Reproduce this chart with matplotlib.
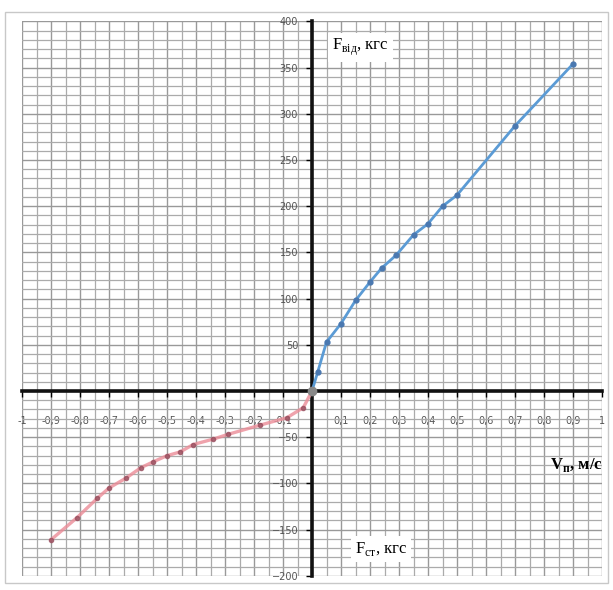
import matplotlib
matplotlib.use("Agg")
import matplotlib.pyplot as plt
from matplotlib.patches import Rectangle
import numpy as np

plt.rcParams["mathtext.fontset"] = "custom"
plt.rcParams["mathtext.rm"] = "Liberation Serif"
plt.rcParams["mathtext.bf"] = "Liberation Serif:bold"

# speed (m/s) vs force (kgf)
v_vid = [0, 0.02, 0.05, 0.1, 0.15, 0.2, 0.24, 0.29, 0.35, 0.4, 0.45, 0.5, 0.7, 0.9]
f_vid = [0, 21, 53, 73, 98, 118, 133, 147, 169, 181, 200, 212, 287, 354]

v_st = [0, -0.03, -0.087, -0.18, -0.29, -0.34, -0.41, -0.455, -0.5, -0.55,
        -0.59, -0.64, -0.70, -0.74, -0.81, -0.9]
f_st = [0, -18, -29, -37, -47, -52, -58, -66, -70, -77,
        -83, -94, -105, -116, -137, -161]

x_ticks = [-1, -0.9, -0.8, -0.7, -0.6, -0.5, -0.4, -0.3, -0.2, -0.1,
           0.1, 0.2, 0.3, 0.4, 0.5, 0.6, 0.7, 0.8, 0.9, 1]
x_labels = ["-1", "-0,9", "-0,8", "-0,7", "-0,6", "-0,5", "-0,4", "-0,3", "-0,2", "-0,1",
            "0,1", "0,2", "0,3", "0,4", "0,5", "0,6", "0,7", "0,8", "0,9", "1"]
y_ticks = [-200, -150, -100, -50, 50, 100, 150, 200, 250, 300, 350, 400]

fig = plt.figure(figsize=(6.13, 5.90), dpi=100)
ax = fig.add_axes([0.0359, 0.0241, 0.9462, 0.9396])

# outer chart frame
fig.patches.append(Rectangle((5 / 613, 1 - 583 / 590), 603 / 613, 571 / 590,
                             transform=fig.transFigure, fill=False,
                             edgecolor="#c8c8c8", linewidth=1))

ax.set_xlim(-1, 1)
ax.set_ylim(-200, 400)

ax.set_xticks(np.arange(-1, 1.001, 0.05), minor=True)
ax.set_yticks(np.arange(-200, 401, 10), minor=True)
ax.set_xticks(x_ticks, x_labels)
ax.set_yticks(y_ticks)
ax.grid(which="major", color="#999999", linewidth=1.0)
ax.grid(which="minor", color="#ababab", linewidth=0.9)
ax.set_axisbelow(True)

for side in ("top", "right"):
    ax.spines[side].set_visible(False)
for side in ("left", "bottom"):
    ax.spines[side].set_position("zero")
    ax.spines[side].set_linewidth(2.6)
    ax.spines[side].set_color("#111111")

ax.tick_params(which="minor", length=0)
ax.tick_params(axis="x", which="major", direction="out", length=4, width=1,
               pad=14, labelsize=7, labelcolor="#555555")
ax.tick_params(axis="y", which="major", direction="out", length=4, width=1,
               pad=6, labelsize=7, labelcolor="#555555")

ax.plot(v_vid, f_vid, color="#5b9bd5", linewidth=2, marker="o", markersize=3.5,
        markerfacecolor="#4a78b0", markeredgecolor="#4a78b0", zorder=3)
ax.plot(v_st, f_st, color="#ec8c98", linewidth=2.4, alpha=0.8, marker="o",
        markersize=3, markerfacecolor="#9a5060", markeredgecolor="#9a5060", zorder=3)
ax.plot([0], [0], "o", color="#888888", markersize=6, zorder=4)

box = dict(facecolor="white", edgecolor="none", pad=3)
ax.text(0.07, 372, r"F$_{\mathrm{від}}$, кгс", fontsize=12, family="Liberation Serif",
        va="center", ha="left", bbox=box, zorder=5)
ax.text(0.148, -171, r"F$_{\mathrm{ст}}$, кгс", fontsize=12, family="Liberation Serif",
        va="center", ha="left", bbox=box, zorder=5)
ax.text(0.82, -80, r"V$_{\mathbf{п}}$, м/с", fontsize=12, family="Liberation Serif",
        fontweight="bold", va="center", ha="left", zorder=5, clip_on=False)

fig.savefig("out.png", dpi=100)
